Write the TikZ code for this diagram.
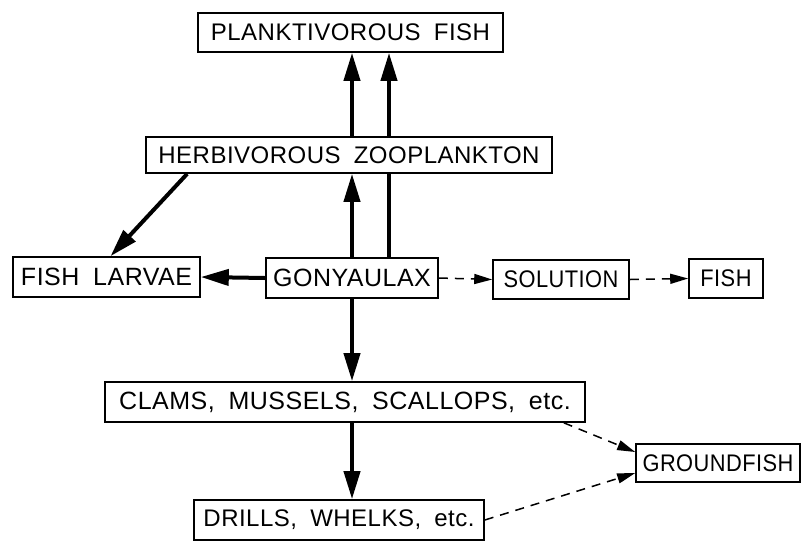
\documentclass[tikz,border=0pt]{standalone}
\usepackage{graphicx}
\usepackage{fontspec}
\setmainfont{Liberation Sans}[LetterSpace=2]
\usetikzlibrary{arrows.meta,backgrounds,calc}
\newcommand{\wsp}{\hspace{0.55em}}
\newcommand{\condtext}[1]{\scalebox{0.91}[1]{#1}}
\begin{document}
\begin{tikzpicture}[x=1pt,y=-1pt,
  box/.style={draw,line width=1.6pt,fill=white,inner sep=0pt,
    font=\fontsize{24}{28}\selectfont},
  fs/.style={font=\fontsize{#1}{#1}\selectfont},
  thickarrow/.style={line width=4pt,-{Triangle[length=28pt,width=16pt]}},
  dasharrow/.style={line width=1.5pt,dash pattern=on 9pt off 7pt,
    -{Triangle[length=18pt,width=10pt]}}]
\useasboundingbox (0,0) rectangle (803,542);
\node[box,minimum width=305pt,minimum height=39pt] (pf) at (350.5,32.5) {PLANKTIVOROUS\wsp FISH};
\node[box,minimum width=406pt,minimum height=36pt] (hz) at (349,155) {HERBIVOROUS\wsp ZOOPLANKTON};
\node[box,fs=25,minimum width=187pt,minimum height=40pt] (fl) at (106.5,277) {FISH\wsp LARVAE};
\node[box,fs=25,minimum width=172pt,minimum height=40pt] (gy) at (352,278) {GONYAULAX};
\node[box,minimum width=136pt,minimum height=39pt] (so) at (561,279.5) {\condtext{SOLUTION}};
\node[box,minimum width=74pt,minimum height=39pt] (fi) at (726,278.5) {\condtext{FISH}};
\node[box,fs=25,minimum width=480pt,minimum height=40pt] (cl) at (345,402) {CLAMS,\wsp MUSSELS,\wsp SCALLOPS,\wsp etc.};
\node[box,minimum width=164pt,minimum height=38pt] (gr) at (718,463) {\condtext{GROUNDFISH}};
\node[box,minimum width=290pt,minimum height=40pt] (dr) at (339,520) {DRILLS,\wsp WHELKS,\wsp etc.};
\coordinate (xr) at (389,0);
\begin{scope}[on background layer]
\draw[thickarrow] (gy.north -| xr) -- (pf.south -| xr);
\end{scope}
\draw[thickarrow] (gy.north) -- (gy.north |- hz.south);
\draw[thickarrow] (gy.north |- hz.north) -- (gy.north |- pf.south);
\draw[thickarrow] ($(hz.south west)+(42,0)$) -- ($(fl.north)+(4,0)$);
\draw[thickarrow] (gy.west) -- (fl.east);
\draw[thickarrow] (gy.south) -- (gy.south |- cl.north);
\draw[thickarrow] (gy.south |- cl.south) -- (gy.south |- dr.north);
\draw[dasharrow] (gy.east) -- (so.west);
\draw[dasharrow] (so.east) -- (fi.west);
\draw[dasharrow] ($(cl.south east)+(-22,0)$) -- ($(gr.west)+(0,-11)$);
\draw[dasharrow] (dr.east) -- ($(gr.west)+(0,10)$);
\end{tikzpicture}
\end{document}
